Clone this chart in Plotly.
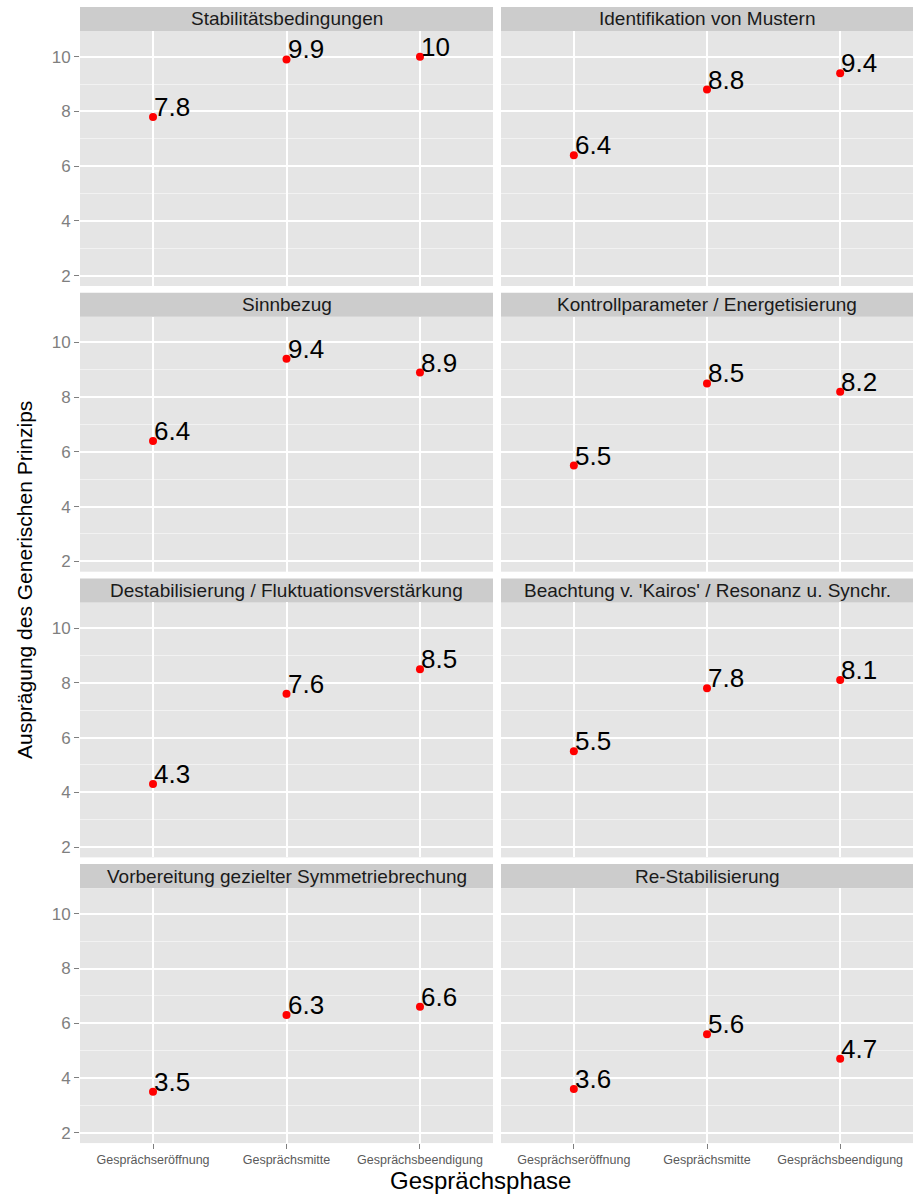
import plotly.graph_objects as go

# ---------------- data ----------------
phases = ["Gesprächseröffnung", "Gesprächsmitte", "Gesprächsbeendigung"]
panel_titles = [
    "Stabilitätsbedingungen",
    "Identifikation von Mustern",
    "Sinnbezug",
    "Kontrollparameter / Energetisierung",
    "Destabilisierung / Fluktuationsverstärkung",
    "Beachtung v. 'Kairos' / Resonanz u. Synchr.",
    "Vorbereitung gezielter Symmetriebrechung",
    "Re-Stabilisierung",
]
stabilitaet = [7.8, 9.9, 10.0]
identifikation = [6.4, 8.8, 9.4]
sinnbezug = [6.4, 9.4, 8.9]
kontrollparameter = [5.5, 8.5, 8.2]
destabilisierung = [4.3, 7.6, 8.5]
kairos = [5.5, 7.8, 8.1]
symmetriebrechung = [3.5, 6.3, 6.6]
restabilisierung = [3.6, 5.6, 4.7]
panel_values = [stabilitaet, identifikation, sinnbezug, kontrollparameter,
                destabilisierung, kairos, symmetriebrechung, restabilisierung]
y_ticks = [2, 4, 6, 8, 10]

# ---------------- layout geometry (pixels) ----------------
W, H = 916, 1197
col_x = [(80, 493), (501, 913)]
row_pitch = 285.7
strip_top0 = 7
strip_h = 24
panel_h = 255

FONT = "Liberation Sans, Arial, Helvetica, sans-serif"

fig = go.Figure()
layout = dict(
    width=W, height=H,
    margin=dict(l=0, r=0, t=0, b=0),
    paper_bgcolor="white",
    plot_bgcolor="#E5E5E5",
    showlegend=False,
    font=dict(family=FONT),
    shapes=[], annotations=[],
)

def py(px):
    return 1 - px / H

for i, (title, vals) in enumerate(zip(panel_titles, panel_values)):
    r, c = divmod(i, 2)
    n = i + 1
    xa = "x" if n == 1 else f"x{n}"
    ya = "y" if n == 1 else f"y{n}"
    st = strip_top0 + r * row_pitch
    ptop = st + strip_h
    pbot = ptop + panel_h
    x0, x1 = col_x[c]

    fig.add_trace(go.Scatter(
        x=phases, y=vals, xaxis=xa, yaxis=ya,
        mode="markers",
        marker=dict(color="#FF0000", size=8),
        hoverinfo="x+y", cliponaxis=False,
    ))
    # value labels, anchored at each point through the axis scales
    for ph, v in zip(phases, vals):
        layout["annotations"].append(dict(
            xref=xa, yref=ya, x=ph, y=v,
            text=f"{v:g}", showarrow=False,
            xanchor="left", yanchor="bottom",
            xshift=-1, yshift=-7,
            font=dict(family=FONT, size=26, color="black"),
        ))

    bottom = (r == 3)
    left = (c == 0)
    layout["xaxis" if n == 1 else f"xaxis{n}"] = dict(
        domain=[x0 / W, x1 / W],
        anchor=ya,
        type="category",
        categoryorder="array", categoryarray=phases,
        range=[-0.547, 2.547],
        showgrid=True, gridcolor="white", gridwidth=1.6,
        zeroline=False, showline=False,
        ticks="outside" if bottom else "", ticklen=5, tickcolor="#7F7F7F", tickwidth=1,
        showticklabels=bottom,
        tickfont=dict(family=FONT, size=12.5, color="#5A5A5A"),
        fixedrange=True,
    )
    layout["yaxis" if n == 1 else f"yaxis{n}"] = dict(
        domain=[py(pbot), py(ptop)],
        anchor=xa,
        range=[1.62, 10.94],
        tickmode="array", tickvals=y_ticks,
        showgrid=True, gridcolor="white", gridwidth=1.6,
        minor=dict(dtick=1, tick0=1, showgrid=True, gridcolor="#F2F2F2", gridwidth=0.8),
        zeroline=False, showline=False,
        ticks="outside" if left else "", ticklen=5, tickcolor="#7F7F7F", tickwidth=1,
        showticklabels=left,
        tickfont=dict(family=FONT, size=17, color="#7F7F7F"),
        fixedrange=True,
    )
    # strip
    layout["shapes"].append(dict(
        type="rect", xref="paper", yref="paper",
        x0=x0 / W, x1=x1 / W, y0=py(ptop), y1=py(st),
        fillcolor="#CCCCCC", line=dict(width=0), layer="below",
    ))
    layout["annotations"].append(dict(
        xref="paper", yref="paper",
        x=(x0 + x1) / 2 / W, y=py(st + strip_h / 2),
        text=title, showarrow=False,
        xanchor="center", yanchor="middle",
        font=dict(family=FONT, size=19, color="#1A1A1A"),
    ))

# axis titles
layout["annotations"].append(dict(
    xref="paper", yref="paper", x=480 / W, y=py(1180),
    text="Gesprächsphase", showarrow=False,
    xanchor="center", yanchor="middle",
    font=dict(family=FONT, size=24, color="black"),
))
layout["annotations"].append(dict(
    xref="paper", yref="paper", x=24 / W, y=py(580),
    text="Ausprägung des Generischen Prinzips", showarrow=False,
    textangle=-90, xanchor="center", yanchor="middle",
    font=dict(family=FONT, size=21, color="black"),
))

fig.update_layout(**layout)
fig.write_html(
    "out.html",
    config={"displayModeBar": False},
    post_script="document.body.style.margin='0';document.body.style.padding='0';",
)
